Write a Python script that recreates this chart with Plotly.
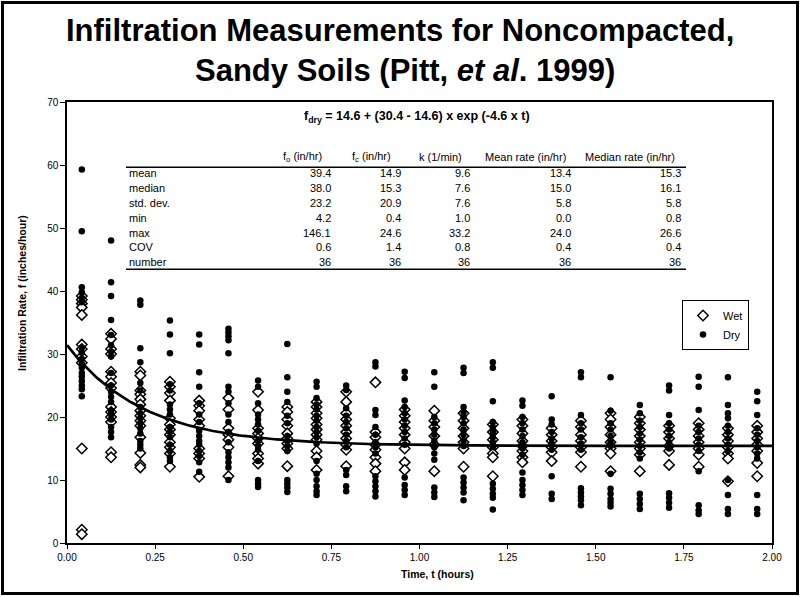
import numpy as np
import plotly.graph_objects as go

# ---------------- data ----------------
times = [0.042, 0.125, 0.208, 0.292, 0.375, 0.458, 0.542, 0.625, 0.708, 0.792,
         0.875, 0.958, 1.042, 1.125, 1.208, 1.292, 1.375, 1.458, 1.542, 1.625,
         1.708, 1.792, 1.875, 1.958]

wet = [
    [39.2, 38.6, 38.0, 37.4, 36.2, 31.5, 30.8, 29.6, 28.6, 15.0, 2.1, 1.4],
    [33.2, 32.4, 30.8, 30.0, 27.2, 26.4, 25.4, 24.6, 21.6, 20.8, 20.0, 19.2, 14.4, 13.6],
    [27.2, 26.6, 24.2, 23.6, 22.8, 22.0, 21.0, 20.2, 19.4, 18.6, 16.8, 14.3, 12.4, 12.0],
    [25.6, 24.8, 23.8, 22.6, 19.8, 18.8, 18.0, 17.2, 16.0, 15.2, 14.2, 12.1],
    [22.6, 21.8, 21.0, 19.6, 18.6, 15.0, 14.2, 13.4, 10.5],
    [23.0, 21.2, 18.2, 17.2, 16.4, 15.2, 10.6],
    [24.0, 21.1, 18.2, 17.4, 16.6, 15.8, 14.2, 13.4, 12.6],
    [21.6, 20.8, 19.6, 18.6, 17.4, 16.6, 15.8, 15.0, 12.2],
    [22.4, 21.6, 20.6, 19.8, 18.8, 18.0, 17.2, 16.4, 14.6, 13.6, 11.6],
    [24.0, 22.4, 20.6, 19.6, 18.6, 17.6, 16.6, 15.6, 14.8, 12.2],
    [25.5, 17.6, 16.8, 15.6, 14.8, 13.6, 12.6, 11.4],
    [21.2, 20.2, 19.2, 18.2, 17.2, 16.0, 15.0, 12.8, 11.6],
    [21.0, 19.4, 18.4, 17.0, 15.6, 11.4],
    [20.6, 19.4, 18.2, 17.0, 16.0, 15.0, 12.1],
    [18.8, 17.6, 16.4, 15.2, 14.2, 13.6, 10.6],
    [19.6, 18.6, 17.4, 16.2, 15.4, 14.6, 13.6, 12.8],
    [18.2, 17.2, 16.2, 15.2, 14.4, 13.0],
    [19.4, 18.4, 17.2, 16.2, 15.2, 14.4, 12.1],
    [20.6, 19.6, 18.4, 17.2, 16.0, 15.0, 14.2, 11.4],
    [20.0, 19.0, 18.0, 17.0, 16.0, 15.0, 14.0, 11.4],
    [18.6, 17.6, 16.6, 15.4, 14.6, 12.4],
    [19.0, 18.0, 17.0, 16.0, 15.0, 14.0, 12.1],
    [18.2, 17.2, 16.2, 15.2, 14.2, 13.4, 9.8],
    [18.6, 17.6, 16.6, 15.6, 14.6, 12.7, 10.6],
]

dry = [
    [59.3, 49.5, 40.6, 39.8, 38.9, 38.2, 31.0, 30.2, 29.2, 28.5, 27.8, 27.0, 26.4, 25.7, 25.0, 24.4, 23.3],
    [48.0, 41.4, 39.2, 35.4, 33.0, 31.4, 30.4, 29.6, 27.0, 25.0, 24.0, 23.2, 22.4, 21.0, 20.4, 19.6, 18.4, 17.6, 16.8],
    [38.5, 37.8, 30.9, 28.7, 25.4, 24.2, 21.6, 20.6, 19.8, 19.0, 18.2, 17.4, 16.2, 15.6, 15.0],
    [35.3, 33.1, 30.1, 25.2, 24.2, 22.0, 21.2, 20.4, 18.4, 17.6, 16.8, 15.6, 14.6, 13.6, 13.0],
    [33.1, 31.5, 27.1, 24.8, 22.2, 20.4, 19.2, 17.8, 17.0, 16.2, 15.6, 14.6, 13.8, 12.8, 11.3],
    [34.0, 33.4, 32.8, 32.2, 30.1, 24.8, 24.0, 22.2, 20.4, 19.2, 17.6, 16.0, 14.4, 13.6, 12.8, 12.0, 10.0],
    [25.8, 24.8, 22.2, 20.4, 19.6, 18.8, 17.8, 16.2, 15.4, 14.8, 13.0, 10.0, 9.4, 8.9],
    [31.6, 26.3, 24.0, 22.4, 20.2, 19.0, 17.0, 16.2, 15.4, 14.6, 10.0, 9.4, 8.8, 8.1],
    [25.6, 24.8, 23.0, 22.0, 21.2, 20.2, 19.4, 18.4, 17.6, 16.8, 15.8, 13.0, 11.0, 10.0, 9.0, 8.2, 7.6],
    [25.0, 24.3, 21.4, 20.2, 19.2, 18.2, 17.2, 16.2, 15.2, 11.6, 10.8, 9.0, 8.2],
    [28.7, 28.0, 21.1, 20.3, 18.4, 17.2, 16.0, 15.2, 14.2, 10.6, 9.8, 9.0, 8.2, 7.4],
    [27.2, 26.2, 22.6, 21.6, 20.6, 19.6, 18.6, 17.6, 16.6, 15.6, 10.4, 9.2, 8.4, 7.6],
    [27.1, 24.8, 20.0, 19.0, 18.0, 17.2, 16.2, 15.2, 14.2, 13.2, 8.8, 8.0, 7.3],
    [27.8, 27.0, 21.6, 20.8, 20.0, 19.0, 18.0, 17.2, 16.2, 15.4, 10.4, 9.6, 8.8, 8.0, 6.8],
    [28.7, 27.8, 22.5, 19.2, 18.4, 17.6, 16.8, 16.0, 15.2, 9.4, 8.6, 7.8, 7.2, 5.3],
    [22.6, 21.8, 20.0, 19.0, 18.0, 17.0, 16.0, 15.0, 14.0, 11.2, 10.0, 9.2, 8.4, 7.6],
    [23.3, 19.6, 18.8, 17.6, 16.6, 15.8, 14.8, 10.6, 7.8, 7.0],
    [27.1, 26.3, 20.3, 19.0, 18.0, 16.8, 15.8, 14.8, 8.7, 8.0, 7.4, 6.8, 6.0],
    [26.3, 21.0, 19.0, 18.0, 17.0, 16.0, 15.4, 11.0, 8.6, 7.8, 7.0, 6.4, 5.8],
    [21.9, 20.6, 19.4, 18.4, 17.4, 16.4, 15.4, 14.4, 13.4, 7.8, 7.0, 6.2, 5.4],
    [25.0, 24.2, 20.3, 19.0, 18.0, 17.0, 16.0, 15.0, 7.9, 7.2, 6.4, 5.6],
    [26.4, 24.8, 21.1, 18.6, 17.6, 16.6, 15.6, 14.6, 11.4, 6.0, 5.2, 4.6],
    [26.3, 21.9, 20.6, 19.8, 18.6, 17.6, 16.6, 15.6, 14.6, 10.0, 7.6, 5.4, 4.6],
    [24.0, 22.5, 20.3, 18.2, 17.2, 16.2, 15.2, 14.2, 13.4, 7.6, 5.4, 4.6],
]

# fitted (Horton) curve parameters as drawn
f_c, f_o, k_fit = 15.4, 31.4, 4.6

x_ticks = [0.00, 0.25, 0.50, 0.75, 1.00, 1.25, 1.50, 1.75, 2.00]
y_ticks = [0, 10, 20, 30, 40, 50, 60, 70]

table_cols = ["f<sub>o</sub> (in/hr)", "f<sub>c</sub> (in/hr)", "k (1/min)",
              "Mean rate (in/hr)", "Median rate (in/hr)"]
table_rows = ["mean", "median", "std. dev.", "min", "max", "COV", "number"]
table_vals = [
    ["39.4", "14.9", "9.6", "13.4", "15.3"],
    ["38.0", "15.3", "7.6", "15.0", "16.1"],
    ["23.2", "20.9", "7.6", "5.8", "5.8"],
    ["4.2", "0.4", "1.0", "0.0", "0.8"],
    ["146.1", "24.6", "33.2", "24.0", "26.6"],
    ["0.6", "1.4", "0.8", "0.4", "0.4"],
    ["36", "36", "36", "36", "36"],
]

title1 = "Infiltration Measurements for Noncompacted,"
title2 = "Sandy Soils (Pitt, <i>et al</i>. 1999)"
equation = "f<sub>dry</sub> = 14.6 + (30.4 - 14.6) x exp (-4.6 x t)"

# ---------------- layout helpers ----------------
W, H = 803, 597
L, R, T, B = 67, 31, 102, 54
PW = W - L - R
PH = H - T - B
FONT = "Arial, 'Liberation Sans', sans-serif"


def px(x):
    return (x - L) / PW


def py(y):
    return (H - B - y) / PH


wx, wy = [], []
for t, vals in zip(times, wet):
    wx += [t] * len(vals)
    wy += vals
dx, dy = [], []
for t, vals in zip(times, dry):
    dx += [t] * len(vals)
    dy += vals

tc = np.linspace(0, 2.0, 300)
fc_curve = f_c + (f_o - f_c) * np.exp(-k_fit * tc)

fig = go.Figure()
fig.add_trace(go.Scatter(
    x=wx, y=wy, mode="markers", name="Wet",
    marker=dict(symbol="diamond", size=8, color="white",
                line=dict(color="black", width=1.5)),
))
fig.add_trace(go.Scatter(
    x=dx, y=dy, mode="markers", name="Dry",
    marker=dict(symbol="circle", size=6.5, color="black", line=dict(width=0)),
))
fig.add_trace(go.Scatter(
    x=tc, y=fc_curve, mode="lines", showlegend=False,
    line=dict(color="black", width=2.7), hoverinfo="skip",
))

annotations = []
annotations.append(dict(text="<b>" + title1 + "</b>", x=px(400), y=py(31),
                        xref="paper", yref="paper", showarrow=False,
                        xanchor="center", yanchor="middle",
                        font=dict(size=31, color="black", family=FONT)))
annotations.append(dict(text="<b>" + title2 + "</b>", x=px(405), y=py(70),
                        xref="paper", yref="paper", showarrow=False,
                        xanchor="center", yanchor="middle",
                        font=dict(size=31, color="black", family=FONT)))
annotations.append(dict(text="<b>" + equation + "</b>", x=px(417), y=py(117),
                        xref="paper", yref="paper", showarrow=False,
                        xanchor="center", yanchor="middle",
                        font=dict(size=12.5, color="black", family=FONT)))

col_right = [333, 403, 472, 573, 683]
col_head_center = [302, 371, 440, 525, 630]
row_y = [173.3, 188.1, 202.9, 217.7, 232.5, 247.3, 262.0]

for hc, txt in zip(col_head_center, table_cols):
    annotations.append(dict(text=txt, x=px(hc), y=py(156.5), xref="paper", yref="paper",
                            showarrow=False, xanchor="center", yanchor="middle",
                            font=dict(size=11, color="black", family=FONT)))
for ry, lab, vals in zip(row_y, table_rows, table_vals):
    annotations.append(dict(text=lab, x=px(127), y=py(ry), xref="paper", yref="paper",
                            showarrow=False, xanchor="left", yanchor="middle",
                            font=dict(size=11, color="black", family=FONT)))
    for cr, v in zip(col_right, vals):
        annotations.append(dict(text=v, x=px(cr), y=py(ry), xref="paper", yref="paper",
                                showarrow=False, xanchor="right", yanchor="middle",
                                font=dict(size=11, color="black", family=FONT)))

annotations.append(dict(text="<b>Time, t (hours)</b>", x=px(437), y=py(574),
                        xref="paper", yref="paper", showarrow=False,
                        xanchor="center", yanchor="middle",
                        font=dict(size=10.5, color="black", family=FONT)))
annotations.append(dict(text="<b>Infiltration Rate, f (inches/hour)</b>", x=px(22), y=py(293),
                        xref="paper", yref="paper", showarrow=False, textangle=-90,
                        xanchor="center", yanchor="middle",
                        font=dict(size=10.5, color="black", family=FONT)))

shapes = [
    dict(type="line", xref="paper", yref="paper", x0=px(126), x1=px(686),
         y0=py(167.3), y1=py(167.3), line=dict(color="black", width=1.5)),
    dict(type="line", xref="paper", yref="paper", x0=px(126), x1=px(686),
         y0=py(269.3), y1=py(269.3), line=dict(color="black", width=1.5)),
    dict(type="rect", xref="paper", yref="paper", x0=px(2.5), x1=px(797.5),
         y0=py(593.5), y1=py(2.5), line=dict(color="black", width=3)),
]

fig.update_layout(
    width=W, height=H,
    margin=dict(l=L, r=R, t=T, b=B, pad=0),
    paper_bgcolor="white", plot_bgcolor="white",
    font=dict(family=FONT, color="black", size=10),
    showlegend=True,
    legend=dict(x=px(682), y=py(300), xanchor="left", yanchor="top",
                bordercolor="black", borderwidth=1, bgcolor="white",
                font=dict(size=11, family=FONT, color="black"),
                itemwidth=30, tracegroupgap=4),
    annotations=annotations,
    shapes=shapes,
    xaxis=dict(range=[0, 2.0], tickvals=x_ticks, tickformat=".2f",
               showgrid=False, zeroline=False, showline=True, mirror=True,
               linecolor="black", linewidth=1.5, ticks="outside", ticklen=4,
               tickwidth=1, tickcolor="black",
               tickfont=dict(size=10, family=FONT, color="black")),
    yaxis=dict(range=[0, 70], tickvals=y_ticks,
               showgrid=False, zeroline=False, showline=True, mirror=True,
               linecolor="black", linewidth=1.5, ticks="outside", ticklen=5,
               tickwidth=1, tickcolor="black",
               tickfont=dict(size=10, family=FONT, color="black")),
)

fig.write_html("out.html", config={"displayModeBar": False},
               post_script="document.body.style.margin='0px';")
